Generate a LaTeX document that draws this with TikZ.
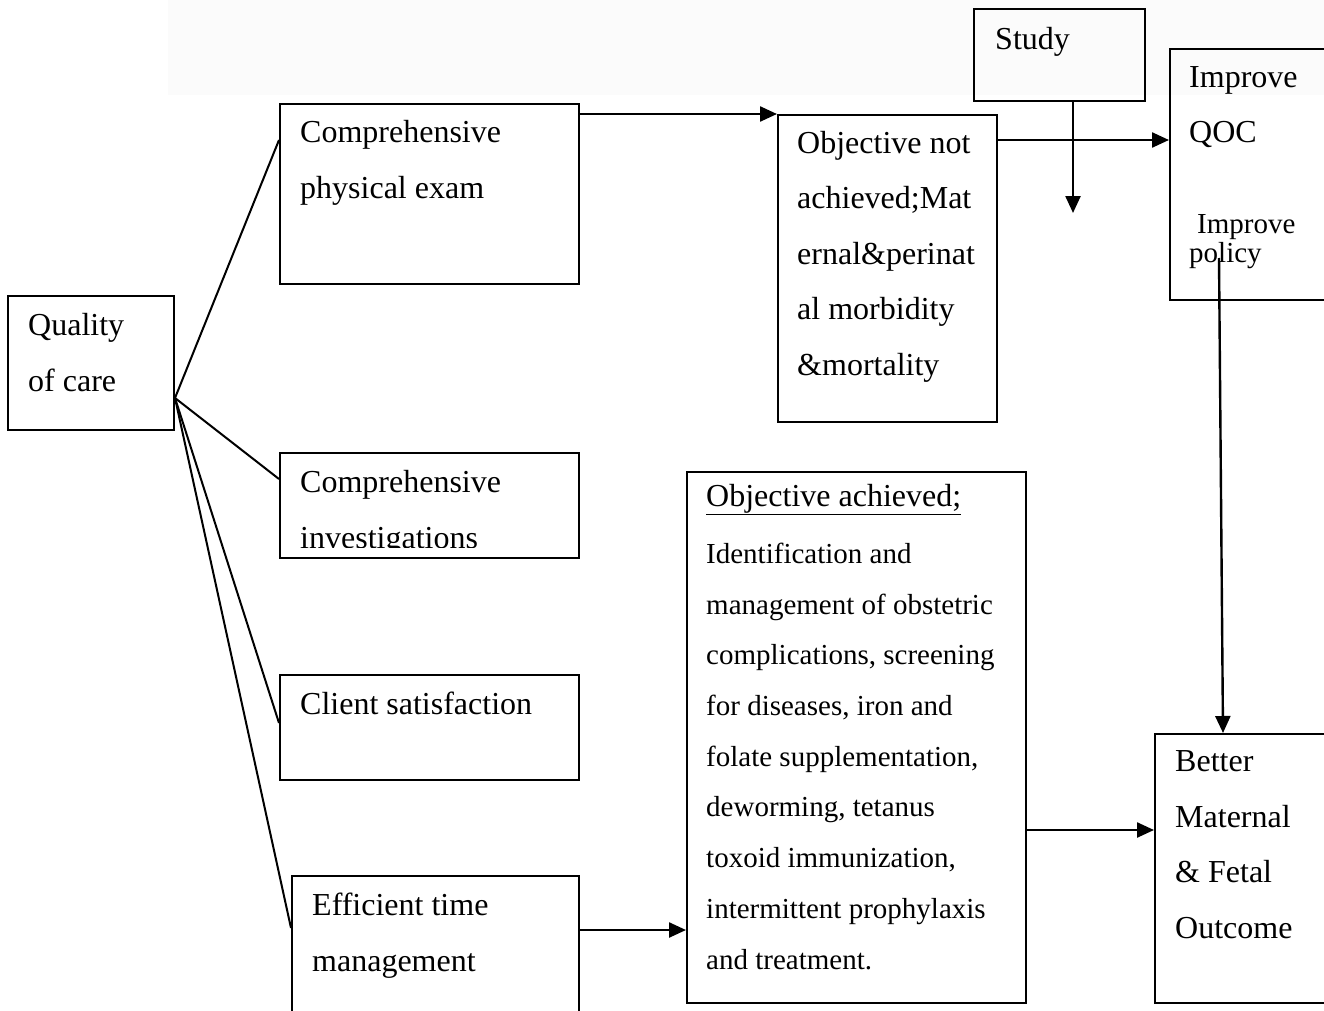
\documentclass[tikz,border=0pt]{standalone}
\usepackage{fontspec}
\setmainfont{Liberation Serif}
\usepackage{tikz}
\usetikzlibrary{arrows.meta}

\tikzset{
  box/.style={draw, line width=2pt, inner sep=0pt, anchor=north west},
  txt/.style={anchor=base west, inner sep=0pt, align=left, font=\fontsize{32}{55.5}\selectfont},
  smalltxt/.style={anchor=base west, inner sep=0pt, align=left, font=\fontsize{29}{50.7}\selectfont},
  link/.style={line width=2pt},
  arr/.style={line width=2.4pt, -{Triangle[length=17pt,width=15pt]}}
}

\begin{document}
\begin{tikzpicture}[x=1pt,y=-1pt]
        \clip (0,0) rectangle (1324,1011);
        \fill[white] (0,0) rectangle (1324,1011);
        \fill[gray!3] (168,0) rectangle (1324,95);

        \node[box, minimum width=166, minimum height=134] (q) at (7,295) {};
        \node[box, minimum width=299, minimum height=180] (cpe) at (279,103) {};
        \node[box, minimum width=299, minimum height=105] (ci) at (279,452) {};
        \node[box, minimum width=299, minimum height=105] (cs) at (279,674) {};
        \node[box, minimum width=287, minimum height=180] (etm) at (291,875) {};
        \node[box, minimum width=219, minimum height=307] (ona) at (777,114) {};
        \node[box, minimum width=171, minimum height=92] (study) at (973,8) {};
        \node[box, minimum width=180, minimum height=251] (iq) at (1169,48) {};
        \node[box, minimum width=339, minimum height=531] (oa) at (686,471) {};
        \node[box, minimum width=190, minimum height=269] (bmfo) at (1154,733) {};

        % text blocks sit on the baseline of their last line
        \node[txt] at (28,391) {Quality\\of care};
        \node[txt] at (300,198) {Comprehensive\\physical exam};
        \begin{scope}
            \clip (279,452) rectangle (578,547);
            \node[txt] at (300,548) {Comprehensive\\investigations};
        \end{scope}
        \node[txt] at (300,714) {Client satisfaction};
        \node[txt] at (312,971) {Efficient time\\management};
        \node[txt] at (797,375) {Objective not\\achieved;Mat\\ernal\&perinat\\al morbidity\\\&mortality};
        \node[txt] at (995,50) {Study};
        \node[txt] at (1189,143) {Improve\\QOC};
        \node[smalltxt, font=\fontsize{29}{29}\selectfont] at (1189,262) {\hspace*{8pt}Improve\\policy};
        \node[txt] at (706,506) {\underline{Objective achieved;}};
        \node[smalltxt] at (706,969) {Identification and\\management of obstetric\\complications, screening\\for diseases, iron and\\folate supplementation,\\deworming, tetanus\\toxoid immunization,\\intermittent prophylaxis\\and treatment.};
        \node[txt] at (1175,938) {Better\\Maternal\\\& Fetal\\Outcome};

        \draw[link] ([yshift=33pt]q.south east) -- ([yshift=-37pt]cpe.north west);
        \draw[link] ([yshift=33pt]q.south east) -- ([yshift=-27pt]ci.north west);
        \draw[link] ([yshift=33pt]q.south east) -- ([yshift=-49pt]cs.north west);
        \draw[link] ([yshift=33pt]q.south east) -- ([yshift=-53pt]etm.north west);

        \coordinate (sd) at (1073,213);
        \coordinate (pol) at (1219,258);
        \draw[arr] ([yshift=-11pt]cpe.north east) -- (ona.north west);
        \draw[arr] ([yshift=-26pt]ona.north east) -- ([yshift=-26pt]ona.north east -| iq.west);
        \draw[arr] (study.south -| sd) -- (sd);
        \draw[arr] (pol) -- ([xshift=69pt]bmfo.north west);
        \draw[arr] ([yshift=174pt]oa.south east) -- ([yshift=174pt]oa.south east -| bmfo.west);
        \draw[arr] ([yshift=-55pt]etm.north east) -- ([yshift=-55pt]etm.north east -| oa.west);
\end{tikzpicture}
\end{document}
